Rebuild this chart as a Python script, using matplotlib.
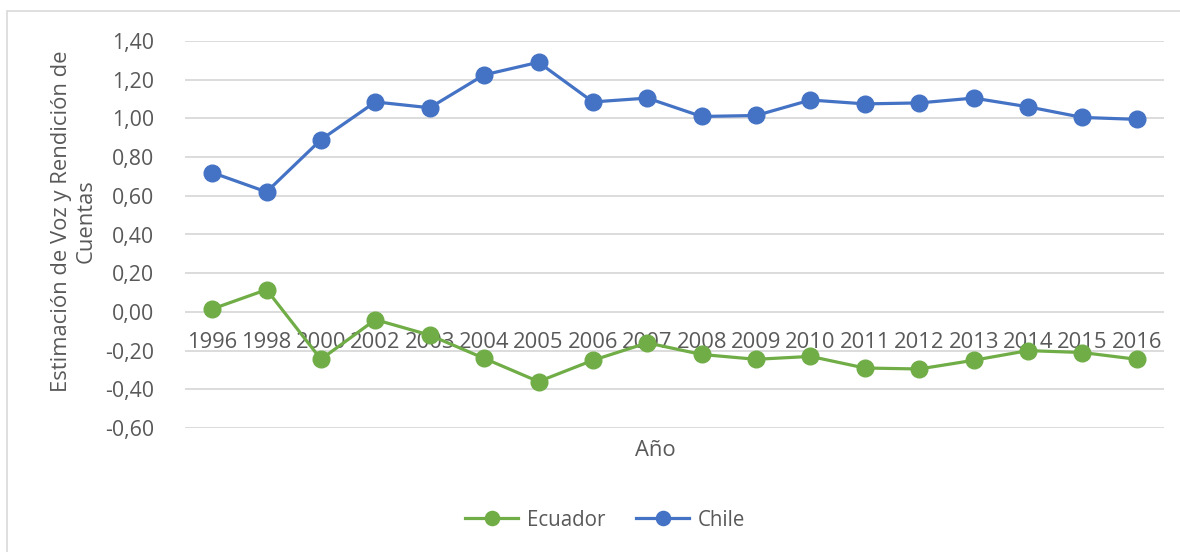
import matplotlib
matplotlib.use("Agg")
import matplotlib.pyplot as plt
from matplotlib.patches import Rectangle

years = ["1996", "1998", "2000", "2002", "2003", "2004", "2005", "2006", "2007",
         "2008", "2009", "2010", "2011", "2012", "2013", "2014", "2015", "2016"]
chile = [0.72, 0.62, 0.89, 1.085, 1.055, 1.225, 1.29, 1.085, 1.105,
         1.01, 1.015, 1.095, 1.075, 1.08, 1.105, 1.06, 1.005, 0.995]
ecuador = [0.015, 0.115, -0.245, -0.04, -0.12, -0.24, -0.36, -0.25, -0.16,
           -0.22, -0.245, -0.23, -0.29, -0.295, -0.25, -0.20, -0.21, -0.245]
yticks = [-0.6, -0.4, -0.2, 0.0, 0.2, 0.4, 0.6, 0.8, 1.0, 1.2, 1.4]

plt.rcParams['font.family'] = ['Open Sans', 'DejaVu Sans']
TXT = '#595959'
W, H = 1180, 552
fig = plt.figure(figsize=(W / 100, H / 100), dpi=100)
fig.patches.append(Rectangle((7 / W, -0.01), 1.2, (H - 11) / H + 0.01,
                             transform=fig.transFigure, fill=False,
                             edgecolor='#d9d9d9', linewidth=1.2))

ax = fig.add_axes([185 / W, 1 - 428 / H, (1164 - 185) / W, (428 - 41) / H])
x = list(range(len(years)))
ax.plot(x, ecuador, color='#70AD47', lw=2.3, marker='o', ms=12, label='Ecuador', zorder=3)
ax.plot(x, chile, color='#4472C4', lw=2.3, marker='o', ms=12, label='Chile', zorder=3)

ax.set_xlim(-0.5, len(years) - 0.5)
ax.set_ylim(-0.6, 1.4)
ax.set_yticks(yticks)
ax.set_yticklabels([f"{v:.2f}".replace('.', ',') for v in yticks], color=TXT, fontsize=15.3)
ax.tick_params(axis='y', length=0, pad=22)
ax.set_xticks([])
for i, yr in enumerate(years):
    ax.text(i, -0.16, yr, ha='center', va='center', color=TXT, fontsize=15.8, zorder=2)
ax.grid(axis='y', color='#d9d9d9', lw=1.3)
ax.set_axisbelow(True)
for s in ax.spines.values():
    s.set_visible(False)

fig.text(655 / W, 1 - 450 / H, 'Año', ha='center', va='center', color=TXT, fontsize=15.8)
fig.text(74 / W, 1 - 221 / H, 'Estimación de Voz y Rendición de\nCuentas', ha='center', va='center',
         rotation=90, color=TXT, fontsize=15.8, linespacing=1.25)

leg = fig.legend(loc='center', bbox_to_anchor=(605 / W, 1 - 520 / H), ncol=2, frameon=False,
                 fontsize=14.8, handlelength=2.6, columnspacing=1.5, handletextpad=0.4,
                 markerscale=0.85)
for t in leg.get_texts():
    t.set_color(TXT)

fig.savefig('out.png', dpi=100)
